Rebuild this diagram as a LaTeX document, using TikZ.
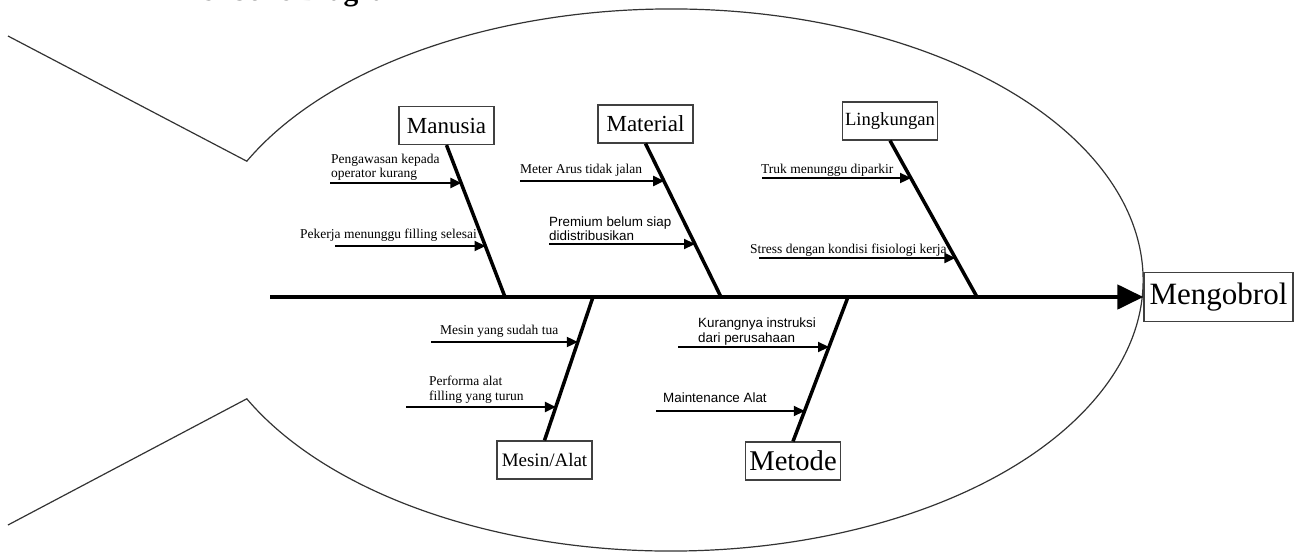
\documentclass[tikz,border=0pt]{standalone}
\usepackage{fontspec}
\setmainfont{Liberation Serif}
\newfontfamily\sansf{Liberation Sans}
\usetikzlibrary{arrows.meta,calc}
\begin{document}
\begin{tikzpicture}[x=1pt,y=1pt,
  cat/.style={draw=black!75, line width=1.2pt, inner sep=0pt, minimum width=95pt, minimum height=38pt, font=\fontsize{23}{23}\selectfont},
  bone/.style={line width=3.5pt},
  spine/.style={line width=4.5pt, -{Triangle[length=26pt,width=24pt]}},
  cause/.style={line width=2pt, -{Triangle[length=11pt,width=10pt]}},
  lbl/.style={anchor=base west, inner sep=0pt, font=\fontsize{13.5}{15}\selectfont},
  slbl/.style={anchor=base west, inner sep=0pt, font=\sansf\fontsize{13.4}{15}\selectfont},
  outline/.style={line width=1.2pt, draw=black!80}]
\useasboundingbox (0,0) rectangle (1299,-554);
\clip (0,0) rectangle (1299,-554);

% title (cut off at the top)
\node[anchor=base west, inner sep=0pt, font=\bfseries\fontsize{29.5}{30}\selectfont] (title) at (177,-1) {Fishbone Diagram};

% fish outline
\draw[outline] (8,-36) -- (246.8,-161.2) arc[start angle=154, end angle=-154, x radius=472, y radius=271] -- (8,-525);

% category boxes
\node[cat] (manusia) at (446.5,-125.5) {Manusia};
\node[cat] (material) at (645.5,-124) {Material};
\node[cat, font=\fontsize{18.6}{19}\selectfont] (lingkungan) at (890,-121) {Lingkungan};
\node[cat, font=\fontsize{19}{19}\selectfont] (mesin) at (544.5,-460) {Mesin/Alat};
\node[cat, font=\fontsize{28.6}{29}\selectfont] (metode) at (793,-461) {Metode};
\node[cat, minimum width=149pt, minimum height=49pt, font=\fontsize{31}{31}\selectfont] (goal) at (1218.5,-297) {Mengobrol};

% spine
\coordinate (tail) at (270,-297);
\coordinate (jm) at (505,-297);
\coordinate (ja) at (721,-297);
\coordinate (jl) at (977,-297);
\coordinate (js) at (593,-297);
\coordinate (jt) at (848,-297);
\draw[spine] (tail) -- (goal.west);

% bones
\draw[bone] (manusia.south) -- (jm);
\draw[bone] (material.south) -- (ja);
\draw[bone] (lingkungan.south) -- (jl);
\draw[bone] (mesin.north) -- (js);
\draw[bone] (metode.north) -- (jt);

% cause arrows: end points on the bones
\coordinate (e1) at ($(manusia.south)!0.255!(jm)$);
\coordinate (e2) at ($(manusia.south)!0.667!(jm)$);
\coordinate (e3) at ($(material.south)!0.247!(ja)$);
\coordinate (e4) at ($(material.south)!0.656!(ja)$);
\coordinate (e5) at ($(lingkungan.south)!0.242!(jl)$);
\coordinate (e6) at ($(lingkungan.south)!0.7516!(jl)$);
\coordinate (e7) at ($(js)!0.3125!(mesin.north)$);
\coordinate (e8) at ($(js)!0.764!(mesin.north)$);
\coordinate (e9) at ($(jt)!0.345!(metode.north)$);
\coordinate (e10) at ($(jt)!0.786!(metode.north)$);

\coordinate (s1) at (330,-183);
\coordinate (s2) at (335,-246);
\coordinate (s3) at (520,-181);
\coordinate (s4) at (549,-244);
\coordinate (s5) at (762,-178);
\coordinate (s6) at (759,-258);
\coordinate (s7) at (431,-342);
\coordinate (s8) at (406,-407);
\coordinate (s9) at (678,-347);
\coordinate (s10) at (656,-411);

\draw[cause] (s1) -- (s1 -| e1);
\draw[cause] (s2) -- (s2 -| e2);
\draw[cause] (s3) -- (s3 -| e3);
\draw[cause] (s4) -- (s4 -| e4);
\draw[cause] (s5) -- (s5 -| e5);
\draw[cause] (s6) -- (s6 -| e6);
\draw[cause] (s7) -- (s7 -| e7);
\draw[cause] (s8) -- (s8 -| e8);
\draw[cause] (s9) -- (s9 -| e9);
\draw[cause] (s10) -- (s10 -| e10);

% cause labels
\node[lbl] (t1a) at (331,-163) {Pengawasan kepada};
\node[lbl] (t1b) at (331,-177) {operator kurang};
\node[lbl] (t2) at (300,-238) {Pekerja menunggu filling selesai};
\node[lbl] (t3) at (520,-173) {Meter Arus tidak jalan};
\node[slbl] (t4a) at (549,-226) {Premium belum siap};
\node[slbl] (t4b) at (549,-240) {didistribusikan};
\node[lbl] (t5) at (761,-173) {Truk menunggu diparkir};
\node[lbl] (t6) at (750,-253) {Stress dengan kondisi fisiologi kerja};
\node[lbl] (t7) at (440,-334) {Mesin yang sudah tua};
\node[lbl] (t8a) at (429,-385) {Performa alat};
\node[lbl] (t8b) at (429,-400) {filling yang turun};
\node[slbl] (t9a) at (698,-327) {Kurangnya instruksi};
\node[slbl] (t9b) at (698,-342) {dari perusahaan};
\node[slbl] (t10) at (663,-402) {Maintenance Alat};
\end{tikzpicture}
\end{document}
